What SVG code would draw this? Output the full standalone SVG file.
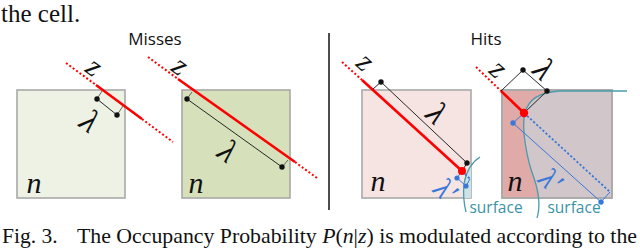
<svg xmlns="http://www.w3.org/2000/svg" width="640" height="250" viewBox="0 0 640 250">
<defs>
<style>
.box{stroke:#a9a9a9;stroke-width:1.6}
.ray{stroke:#ff0000;stroke-width:2.6;fill:none}
.rayd{stroke:#ff0000;stroke-width:2;stroke-dasharray:2 2.2;fill:none}
.dim{stroke:#111;stroke-width:0.9;fill:none}
.tick{stroke:#444;stroke-width:0.8;fill:none}
.dot{fill:#111}
.bl{stroke:#3a78d8;stroke-width:1;fill:none}
.bld{stroke:#3a78d8;stroke-width:1.8;stroke-dasharray:2.2 2;fill:none}
.bdot{fill:#3a78d8}
.surf{stroke:#4b9cab;stroke-width:1.3;fill:none}
.m{font-family:"Liberation Serif","DejaVu Serif",serif;font-style:italic;font-size:30px;fill:#111;text-anchor:middle;dominant-baseline:central}
.l{font-size:33px}
.mb{fill:#3a78d8}
.t{font-family:"Open Sans","Noto Sans",sans-serif;font-size:17px;fill:#111;text-anchor:middle}
.s{font-family:"Open Sans","Noto Sans",sans-serif;font-size:15.5px;fill:#3a93a6;text-anchor:middle}
.cap{font-family:"Liberation Serif","Times New Roman",serif;fill:#111}
</style>
</defs>
<rect width="640" height="250" fill="#fff"/>
<text class="cap" x="1" y="22" font-size="25">the cell.</text>
<text class="t" x="155" y="45">Misses</text>
<text class="t" x="486" y="45">Hits</text>
<line x1="329" y1="33" x2="329" y2="210" stroke="#111" stroke-width="1.5"/>

<g id="miss1">
<rect class="box" x="17" y="90" width="108" height="108" fill="#eef2e4"/>
<text class="m" x="34" y="182">n</text>
</g>
<g id="miss2">
<rect class="box" x="182" y="90" width="108" height="108" fill="#d6e1bb"/>
<text class="m" x="196" y="182">n</text>
</g>
<g id="hit1">
<rect class="box" x="362" y="90" width="109" height="108" fill="#f6e4e3"/>
<path d="M471,164 C467,170 464,178 464,188 L464,198 L471,198 Z" fill="#cde2e7"/>
<text class="m" x="378" y="180">n</text>
</g>
<g id="hit2">
<rect class="box" x="502" y="90" width="110" height="108" fill="#d1c6ca"/>
<path d="M503,91 H556 C540,92 528,100 525,113 C521,128 527,160 534,178 C537,188 539,194 539,197 H503 Z" fill="#dfaaa8"/>
<rect x="502" y="90" width="110" height="108" fill="none" stroke="#a9a9a9" stroke-width="1.6"/>
<text class="m" x="515" y="180">n</text>
</g>

<g id="connectors">
<!-- panel 1 -->
<line class="rayd" x1="66" y1="63" x2="96" y2="85"/>
<line class="ray" x1="96" y1="85" x2="142" y2="119"/>
<line class="rayd" x1="142" y1="119" x2="173" y2="142"/>
<line class="tick" x1="97" y1="99" x2="102" y2="91"/>
<line class="tick" x1="117" y1="115" x2="123" y2="106"/>
<line class="dim" x1="97" y1="99" x2="117" y2="115"/>
<circle class="dot" cx="97" cy="99" r="2.7"/>
<circle class="dot" cx="117" cy="115" r="2.7"/>
<text class="m" transform="translate(95,66) rotate(36)">z</text>
<text class="m l" transform="translate(90,121) rotate(36)">λ</text>

<!-- panel 2 -->
<line class="rayd" x1="148" y1="57" x2="178" y2="79"/>
<line class="ray" x1="178" y1="79" x2="295" y2="162"/>
<line class="rayd" x1="295" y1="162" x2="317" y2="178"/>
<line class="tick" x1="187" y1="99" x2="192" y2="92"/>
<line class="tick" x1="282" y1="167" x2="288" y2="160"/>
<line class="dim" x1="187" y1="99" x2="282" y2="167"/>
<circle class="dot" cx="187" cy="99" r="2.7"/>
<circle class="dot" cx="282" cy="167" r="2.7"/>
<text class="m" transform="translate(181,65) rotate(36)">z</text>
<text class="m l" transform="translate(228,151) rotate(36)">λ</text>

<!-- panel 3 -->
<path class="surf" d="M480,157 C472,162 466,172 464,184 C463,194 464,204 466,212"/>
<line class="rayd" x1="342" y1="62" x2="362" y2="80"/>
<line class="ray" x1="362" y1="80" x2="462" y2="171"/>
<path class="dim" d="M373,89 L381,82 L467,163 L462,171"/>
<circle class="dot" cx="381" cy="82" r="2.7"/>
<circle class="dot" cx="467" cy="163" r="2.7"/>
<line class="bld" x1="462" y1="171" x2="470" y2="179"/>
<path class="bl" d="M462,171 L457,178 L466,186 L470,179"/>
<circle class="bdot" cx="457" cy="178" r="2.6"/>
<circle class="bdot" cx="466" cy="186" r="2.6"/>
<circle cx="462" cy="171" r="4" fill="#ff0000"/>
<text class="m" transform="translate(366,61) rotate(42)">z</text>
<text class="m l" transform="translate(437,113) rotate(42)">λ</text>
<text class="m mb" font-size="21" transform="translate(446,190) rotate(42)">λ′</text>
<text class="s" x="496" y="213">surface</text>

<!-- panel 4 -->
<path class="surf" d="M627,91 H560 C540,92 528,100 525,113 C521,128 527,160 534,178 C538,190 541,205 537,218"/>
<line class="rayd" x1="476" y1="67" x2="501" y2="91"/>
<line class="ray" x1="501" y1="91" x2="524" y2="113"/>
<path class="dim" d="M501,91 L523,70 L547,91 L524,113"/>
<circle class="dot" cx="523" cy="70" r="2.7"/>
<circle class="dot" cx="547" cy="91" r="2.7"/>
<line class="bld" x1="524" y1="113" x2="610" y2="192"/>
<line class="bl" x1="524" y1="113" x2="513" y2="123"/>
<line class="bl" x1="513" y1="123" x2="601" y2="202"/>
<line class="bl" x1="601" y1="202" x2="610" y2="192"/>
<circle class="bdot" cx="513" cy="123" r="2.7"/>
<circle class="bdot" cx="601" cy="202" r="2.7"/>
<circle cx="524" cy="113" r="4.2" fill="#ff0000"/>
<text class="m" transform="translate(499,68) rotate(42)">z</text>
<text class="m l" transform="translate(544,69) rotate(42)">λ</text>
<text class="m mb" transform="translate(551,180) rotate(42)">λ′</text>
<text class="s" x="574" y="213">surface</text>
</g>

<text class="cap" x="2" y="243" font-size="21.5">Fig. 3.</text>
<text class="cap" x="77" y="243" font-size="21.8" textLength="560" lengthAdjust="spacing">The Occupancy Probability <tspan font-style="italic">P</tspan>(<tspan font-style="italic">n</tspan>|<tspan font-style="italic">z</tspan>) is modulated according to the</text>
</svg>
